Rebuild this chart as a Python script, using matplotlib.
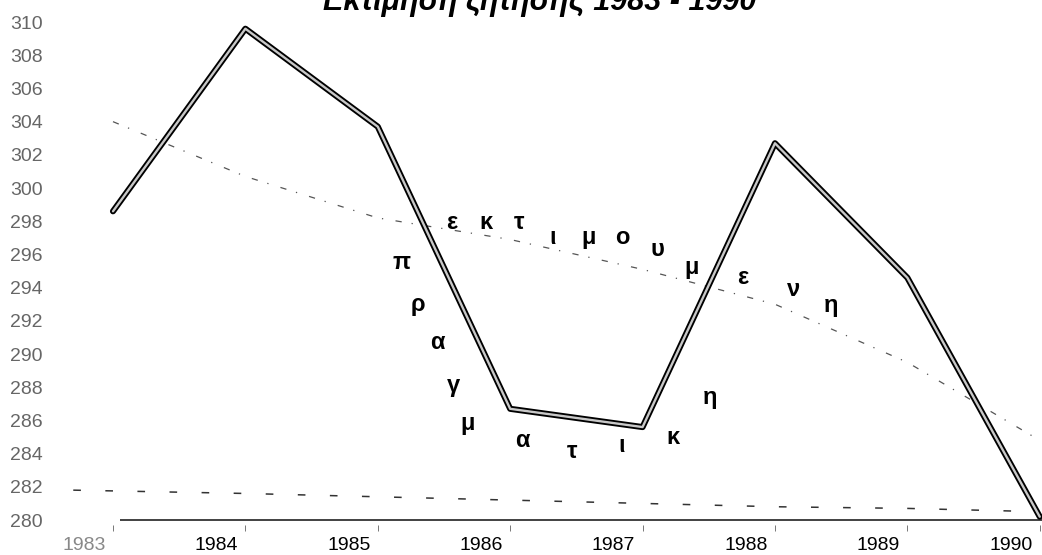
import matplotlib.pyplot as plt
import matplotlib.transforms as mtransforms

# years on the x axis
years = [1983, 1984, 1985, 1986, 1987, 1988, 1989, 1990]
year_labels = ['1983', '1984', '1985', '1986', '1987', '1988', '1989', '1990']

# actual (πραγματική) and estimated (εκτιμούμενη) values
actual = [298.6, 309.6, 303.7, 286.7, 285.6, 302.7, 294.6, 280.2]
estimated = [304.0, 300.7, 298.2, 296.9, 295.1, 293.0, 289.5, 284.8]

# lower dashed trend
trend_x = [1982.7, 1984, 1985, 1986, 1987, 1988, 1989, 1990]
trend = [281.8, 281.6, 281.4, 281.2, 281.0, 280.8, 280.7, 280.5]

y_ticks = list(range(280, 311, 2))

# letters written along the curves (label, x, y)
actual_letters = list('πραγματικη')
actual_lx = [1985.18, 1985.30, 1985.45, 1985.57, 1985.68, 1986.09, 1986.47, 1986.84, 1987.23, 1987.51]
actual_ly = [295.5, 293.0, 290.7, 288.1, 285.8, 284.8, 284.1, 284.5, 285.0, 287.4]

est_letters = list('εκτιμουμενη')
est_lx = [1985.56, 1985.82, 1986.07, 1986.32, 1986.59, 1986.85, 1987.11, 1987.37, 1987.76, 1988.14, 1988.42]
est_ly = [297.9, 297.9, 297.9, 297.0, 297.0, 297.0, 296.3, 295.2, 294.6, 293.9, 292.9]

W, H = 1042, 555
fig = plt.figure(figsize=(W / 100, H / 100), dpi=100)
# axes box in pixels: left 55, right 1042, top 0, bottom 525
ax = fig.add_axes([55 / W, (H - 525) / H, (W - 55) / W, 525 / H])
ax.set_xlim(1982.562, 1990.017)
ax.set_ylim(279.70, 311.33)

for s in ax.spines.values():
    s.set_visible(False)

# baseline
ax.plot([1983.05, 1990.017], [280, 280], color='#333333', lw=1.3, solid_capstyle='butt')
# dashed trend
ax.plot(trend_x, trend, color='#333333', lw=1.1, linestyle=(0, (5, 16)))
# estimated dotted
ax.plot(years, estimated, color='#555555', lw=0.9, linestyle=(0, (5, 8, 1, 10)))
# actual thick hollow line
ax.plot(years, actual, color='black', lw=4.4, solid_joinstyle='round', solid_capstyle='round')
ax.plot(years, actual, color='#c8c8c8', lw=1.7, solid_joinstyle='round', solid_capstyle='round')

for ch, x, y in zip(actual_letters, actual_lx, actual_ly):
    ax.text(x, y, ch, ha='center', va='center', fontsize=17, fontweight='bold',
            family=['Liberation Sans', 'DejaVu Sans'])
for ch, x, y in zip(est_letters, est_lx, est_ly):
    ax.text(x, y, ch, ha='center', va='center', fontsize=17, fontweight='bold',
            family=['Liberation Sans', 'DejaVu Sans'])

ax.set_yticks(y_ticks)
ax.set_yticklabels([str(v) for v in y_ticks], family=['Liberation Sans Narrow', 'Liberation Sans'],
                   fontsize=14, color='#666666')
ax.tick_params(axis='y', length=0, pad=9)

ax.set_xticks(years)
ax.set_xticklabels(year_labels, family=['Liberation Sans', 'DejaVu Sans'], fontsize=14)
ax.tick_params(axis='x', length=4, width=0.7, color='#777777', pad=5)
shift = mtransforms.ScaledTranslation(-29 / 100, 0, fig.dpi_scale_trans)
for i, lab in enumerate(ax.get_xticklabels()):
    lab.set_transform(lab.get_transform() + shift)
    if i == 0:
        lab.set_color('#888888')

# title, its top runs off the page as in the scan
fig.text(540 / W, (H - 10) / H, 'Εκτίμηση ζήτησης 1983 - 1990', ha='center', va='baseline',
         fontsize=22, fontweight='bold', fontstyle='italic',
         family=['Liberation Sans', 'DejaVu Sans'])

fig.savefig('out.png', dpi=100)
